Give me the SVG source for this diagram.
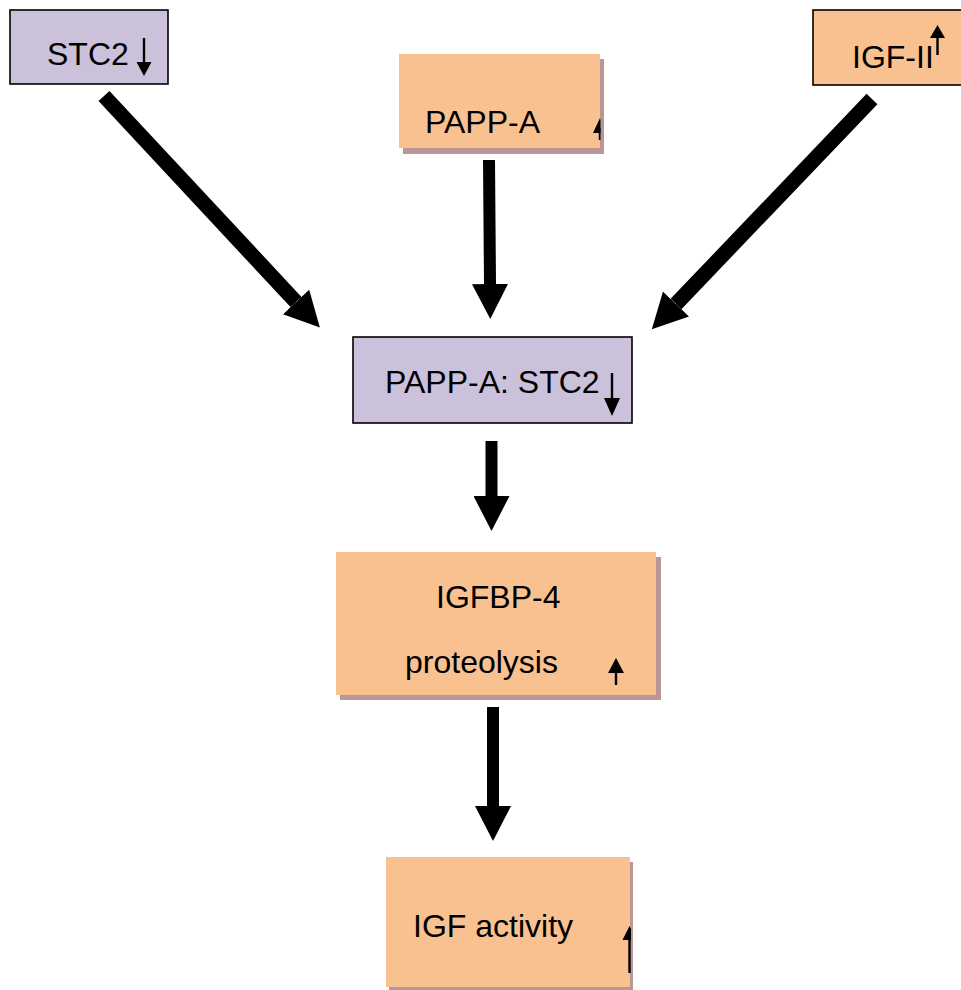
<svg xmlns="http://www.w3.org/2000/svg" width="961" height="990" viewBox="0 0 961 990">
<style>
  .lav { fill: #ccc1da; stroke: #000; stroke-width: 1.6; }
  .org { fill: #f9c190; stroke: #000; stroke-width: 1.6; }
  .orgn { fill: #f9c190; stroke: none; }
  .shadow { fill: #bb9696; }
  .t { font-family: "Liberation Sans", Arial, sans-serif; font-size: 32px; fill: #000; }
  .stem { stroke: #000; stroke-width: 2.4; fill: none; }
  .tri { fill: #000; }
  .conn { stroke: #000; fill: none; marker-end: url(#head); }
</style>
<defs>
  <marker id="head" markerUnits="userSpaceOnUse" markerWidth="36" markerHeight="36" viewBox="0 0 36 36" refX="0" refY="18" orient="auto">
    <path d="M0,0 L35,18 L0,36 Z" fill="#000"/>
  </marker>
  <clipPath id="clipPappa"><rect x="399" y="54" width="201.5" height="94"/></clipPath>
  <clipPath id="clipIgfAct"><rect x="386" y="857" width="245" height="130"/></clipPath>
</defs>
<rect width="961" height="990" fill="#fff"/>

<g id="node-stc2">
  <rect class="lav" x="10" y="10" width="158" height="74"/>
  <text class="t" x="47" y="65">STC2</text>
  <line class="stem" x1="144" y1="38" x2="144" y2="64"/>
  <polygon class="tri" points="136.5,62 151.5,62 144,76"/>
</g>

<g id="node-pappa">
  <rect class="shadow" x="403" y="59" width="201" height="95"/>
  <rect class="orgn" x="399" y="54" width="201" height="94"/>
  <text class="t" x="425" y="133">PAPP-A</text>
  <g clip-path="url(#clipPappa)">
    <line class="stem" x1="600" y1="128" x2="600" y2="140"/>
    <polygon class="tri" points="593,133 607,133 600,118"/>
  </g>
</g>

<g id="node-igf2">
  <rect class="org" x="813" y="10" width="160" height="75"/>
  <text class="t" x="852" y="68">IGF-II</text>
  <line class="stem" x1="937.5" y1="55" x2="937.5" y2="36"/>
  <polygon class="tri" points="930,38 945,38 937.5,25"/>
</g>

<g id="node-complex">
  <rect class="lav" x="353" y="337" width="279" height="86"/>
  <text class="t" x="385" y="393">PAPP-A: STC2</text>
  <line class="stem" x1="612" y1="373" x2="612" y2="400"/>
  <polygon class="tri" points="604,398 620,398 612,416"/>
</g>

<g id="node-igfbp4">
  <rect class="shadow" x="340" y="557" width="321" height="143"/>
  <rect class="orgn" x="336" y="552" width="320" height="143"/>
  <text class="t" x="436" y="608">IGFBP-4</text>
  <text class="t" x="405" y="673">proteolysis</text>
  <line class="stem" x1="616" y1="685" x2="616" y2="671"/>
  <polygon class="tri" points="608,673 624,673 616,658"/>
</g>

<g id="node-igfact">
  <rect class="shadow" x="389" y="862" width="244" height="130"/>
  <rect class="orgn" x="386" y="857" width="244" height="130"/>
  <text class="t" x="413" y="937">IGF activity</text>
  <g clip-path="url(#clipIgfAct)">
    <line class="stem" x1="629.5" y1="935" x2="629.5" y2="973"/>
    <polygon class="tri" points="622.5,940 636.5,940 629.5,926"/>
  </g>
</g>

<g id="connectors">
  <line class="conn" stroke-width="15" x1="104" y1="96" x2="296" y2="302"/>
  <line class="conn" stroke-width="12" x1="489" y1="160" x2="490" y2="284"/>
  <line class="conn" stroke-width="15" x1="872" y1="99" x2="676" y2="304"/>
  <line class="conn" stroke-width="12" x1="491.5" y1="441" x2="491.5" y2="496"/>
  <line class="conn" stroke-width="12" x1="493" y1="707" x2="493" y2="806"/>
</g>
</svg>
